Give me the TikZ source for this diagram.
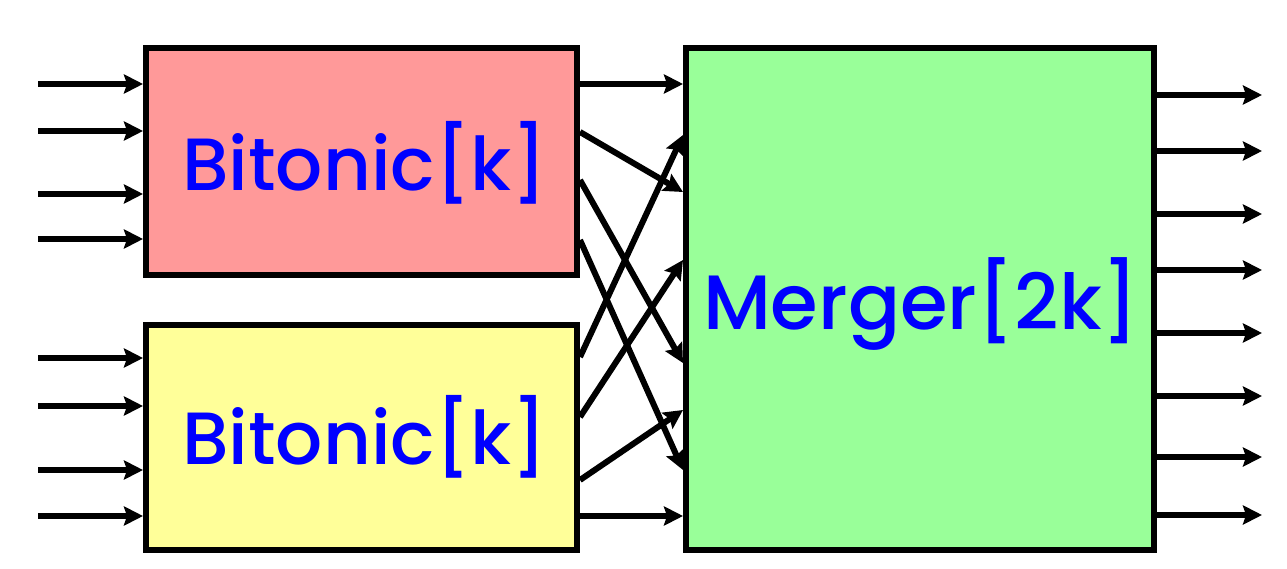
\documentclass[tikz,border=0pt]{standalone}
\usepackage{fontspec}
\setmainfont{Poppins}[UprightFont=* Medium]
\usetikzlibrary{arrows.meta,calc}
\definecolor{boxred}{HTML}{FF9999}
\definecolor{boxyellow}{HTML}{FFFF99}
\definecolor{boxgreen}{HTML}{99FF99}
\definecolor{txtblue}{HTML}{0000FF}
\tikzset{
  blk/.style={draw=black, line width=6pt, inner sep=0pt},
  lbl/.style={text=txtblue, inner sep=0pt, font=\fontsize{74}{78}\selectfont},
  wire/.style={line width=6pt, -{Stealth[length=19pt,width=19pt,inset=3pt]}}
}
\begin{document}
\begin{tikzpicture}[x=1pt,y=-1pt]
\useasboundingbox (0,0) rectangle (1287,569);
\node[blk, fill=boxred, minimum width=431pt, minimum height=227pt] (b1) at (361.5,161.5) {};
\node[lbl] (t1) at (365,163) {Bitonic[k]};
\node[blk, fill=boxyellow, minimum width=431pt, minimum height=225pt] (b2) at (361.5,437.5) {};
\node[lbl] (t2) at (365,437) {Bitonic[k]};
\node[blk, fill=boxgreen, minimum width=468pt, minimum height=502pt] (m) at (920,299) {};
\node[lbl, font=\fontsize{77}{81}\selectfont] (mt) at (921,304) {Merger[2k]};
% inputs
\foreach \y/\n in {84/a1,131/a2,194/a3,239/a4} {
  \coordinate (\n) at (38,\y);
  \draw[wire] (\n) -- (\n -| b1.west);
}
\foreach \y/\n in {358/c1,406/c2,470/c3,516/c4} {
  \coordinate (\n) at (38,\y);
  \draw[wire] (\n) -- (\n -| b2.west);
}
% top box to merger
\foreach \ya/\yb in {84/84,132/192,180/363,240/470} {
  \draw[wire] (b1.east |- 0,\ya) -- (m.west |- 0,\yb);
}
% bottom box to merger
\foreach \ya/\yb in {357/135,417/260,480/410,516/516} {
  \draw[wire] (b2.east |- 0,\ya) -- (m.west |- 0,\yb);
}
% outputs
\foreach \y/\n in {95/o1,151/o2,214/o3,270/o4,333/o5,396/o6,457/o7,515/o8} {
  \coordinate (\n) at (1262,\y);
  \draw[wire] (m.east |- \n) -- (\n);
}
\end{tikzpicture}
\end{document}
